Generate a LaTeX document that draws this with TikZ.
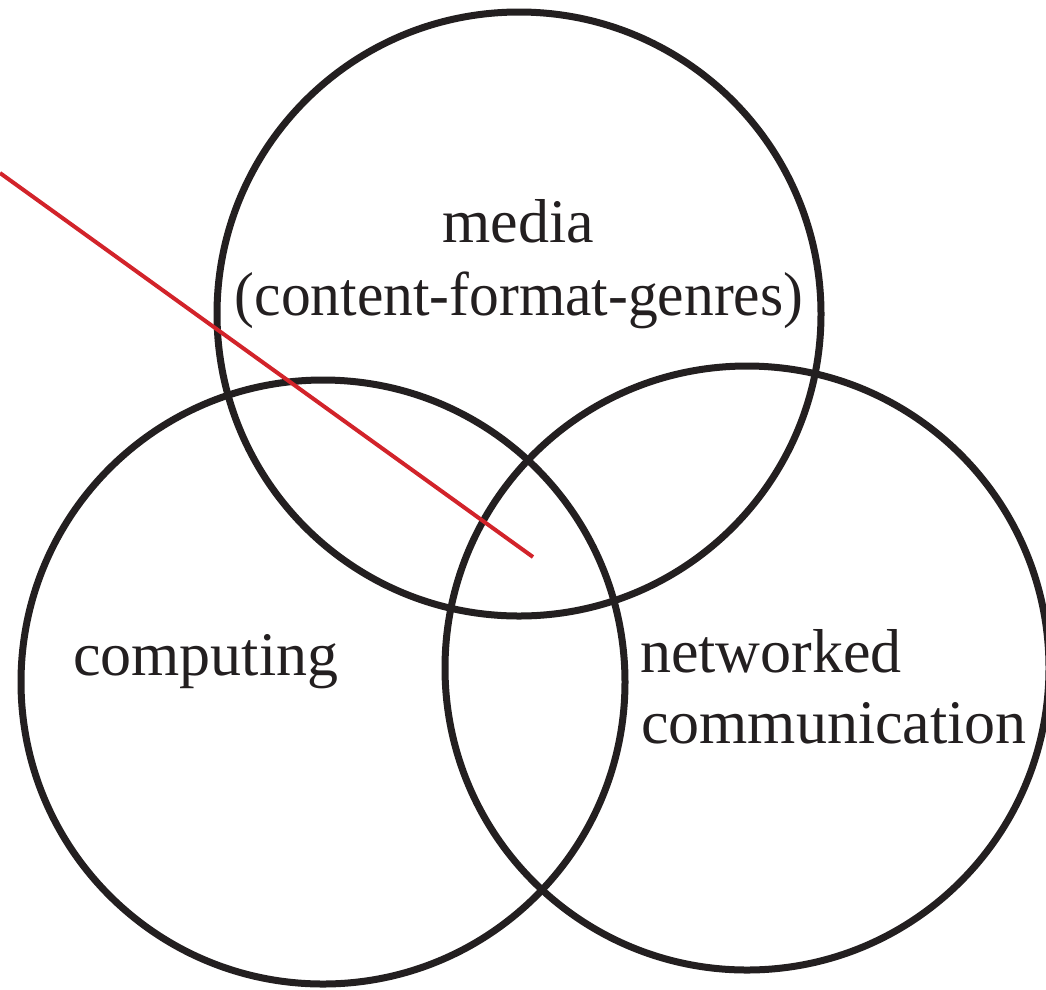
\documentclass[tikz,border=0pt]{standalone}
\usepackage{fontspec}
\setmainfont{Liberation Serif}
\usepackage{graphicx}
\usepackage{tikz}
\definecolor{strfsq}{rgb}{0.137,0.122,0.125}
\definecolor{dsstsa}{rgb}{0.824,0.137,0.165}
\tikzstyle{every node}=[font=\fontsize{62}{72}\selectfont,color=strfsq,inner sep=0pt]

\begin{document}
\begin{tikzpicture}[line cap=butt,line join=round,x=1pt,y=-1pt]
                    \useasboundingbox (0,0) rectangle (1046,989);

                    \draw [line width=7pt,color=strfsq] (519,314) circle (302pt);
                    \draw [line width=7pt,color=strfsq] (323,682) circle (302pt);
                    \draw [line width=7pt,color=strfsq] (747,668) circle (302pt);

                    \coordinate (redstart) at (0,173);
                    \coordinate (redend) at (533,557);
                    \draw [line width=4pt,color=dsstsa] (redstart)-- (redend);

                    \node (media) [anchor=base] at (518,242) {media};
                    \node (genres) [anchor=base] at (519,315) {\scalebox{0.96}[1]{(content-format-genres)}};
                    \node (computing) [anchor=base west] at (73,675) {computing};
                    \node (networked) [anchor=base west] at (640,672) {networked};
                    \node (communication) [anchor=base west] at (641,743) {communication};
                    \end{tikzpicture}
\end{document}
